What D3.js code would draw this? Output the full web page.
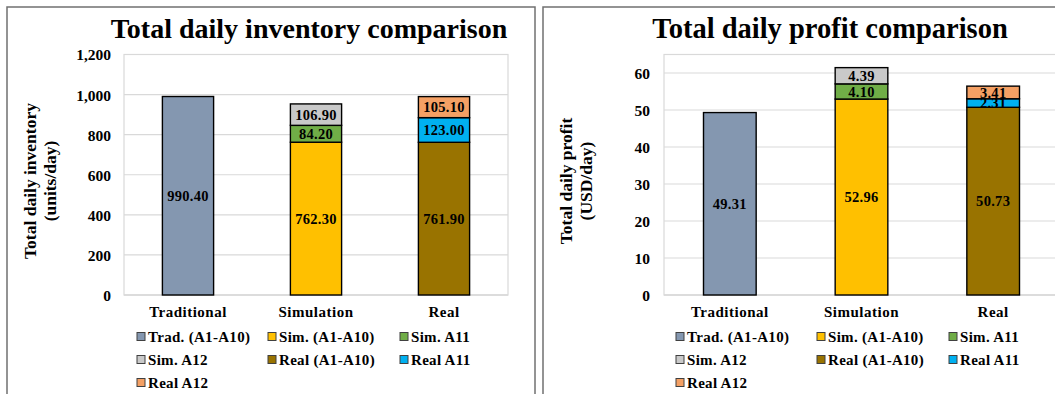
<!DOCTYPE html>
<html><head><meta charset="utf-8">
<script src="https://cdn.jsdelivr.net/npm/d3@7"></script>
<style>
html,body{margin:0;padding:0;background:#fff;}
svg{display:block;}
text{font-family:"Liberation Serif","Times New Roman",serif;font-weight:bold;fill:#000;}
</style></head><body>
<svg id="c" width="1055" height="394"></svg>
<script>
const categories = ["Traditional", "Simulation", "Real"];
const seriesNames = ["Trad. (A1-A10)", "Sim. (A1-A10)", "Sim. A11", "Sim. A12", "Real (A1-A10)", "Real A11", "Real A12"];
const seriesColors = ["#8497B0", "#FFC000", "#70AD47", "#C9C9C9", "#997300", "#00B0F0", "#F4A064"];
// which category each series sits on
const seriesCategory = ["Traditional", "Simulation", "Simulation", "Simulation", "Real", "Real", "Real"];
const inventoryValues = [990.40, 762.30, 84.20, 106.90, 761.90, 123.00, 105.10];
const profitValues = [49.31, 52.96, 4.10, 4.39, 50.73, 2.31, 3.41];
const inventoryTicks = [0, 200, 400, 600, 800, 1000, 1200];
const profitTicks = [0, 10, 20, 30, 40, 50, 60];

const svg = d3.select("#c");

function drawPanel(cfg) {
  const g = svg.append("g");
  // panel border
  g.append("rect").attr("x", cfg.px).attr("y", 7).attr("width", cfg.pw).attr("height", 420)
    .attr("fill", "#fff").attr("stroke", "#707070").attr("stroke-width", 1.5);
  g.append("text").attr("x", cfg.titleX).attr("y", 38).attr("text-anchor", "middle")
    .style("font-size", cfg.titleSize).text(cfg.title);

  const x = d3.scaleBand().domain(categories).range([cfg.left, cfg.right]).paddingInner(0.6).paddingOuter(0.3);
  const y = d3.scaleLinear().domain(cfg.domain).range([295, 54.5]);

  // plot area
  g.append("rect").attr("x", cfg.left).attr("y", 54.5).attr("width", cfg.right - cfg.left).attr("height", 295 - 54.5)
    .attr("fill", "none").attr("stroke", "#D9D9D9").attr("stroke-width", 1.2);
  // gridlines
  g.append("g").selectAll("line").data(cfg.ticks.filter(t => t > 0)).join("line")
    .attr("x1", cfg.left).attr("x2", cfg.right).attr("y1", d => y(d)).attr("y2", d => y(d))
    .attr("stroke", "#D9D9D9").attr("stroke-width", 1.2);
  g.append("line").attr("x1", cfg.left).attr("x2", cfg.right).attr("y1", y(0)).attr("y2", y(0))
    .attr("stroke", "#D9D9D9").attr("stroke-width", 1.5);

  // y axis
  const ya = d3.axisLeft(y).tickValues(cfg.ticks).tickSize(0).tickPadding(0).tickFormat(d3.format(","));
  const yg = g.append("g").attr("transform", `translate(${cfg.tickX},0)`).call(ya);
  yg.select(".domain").remove();
  yg.selectAll("text").style("font-size", "15.5px").attr("dy", "0.35em").attr("x", 0);

  // x axis labels
  const xa = d3.axisBottom(x).tickSize(0).tickPadding(0);
  const xg = g.append("g").attr("transform", `translate(0,${y(0)})`).call(xa);
  xg.select(".domain").remove();
  xg.selectAll("text").style("font-size", "15px").style("letter-spacing", "0.5px").attr("y", 22).attr("dy", 0);

  // stacked bars
  const vals = cfg.values;
  const segs = [];
  const base = {};
  vals.forEach((v, i) => {
    const c = seriesCategory[i];
    const b = base[c] || 0;
    segs.push({i, c, y0: b, y1: b + v, v});
    base[c] = b + v;
  });
  g.append("g").selectAll("rect").data(segs).join("rect")
    .attr("x", d => x(d.c)).attr("width", x.bandwidth())
    .attr("y", d => y(d.y1)).attr("height", d => y(d.y0) - y(d.y1))
    .attr("fill", d => seriesColors[d.i]).attr("stroke", "#000").attr("stroke-width", 1.4);
  g.append("g").selectAll("text").data(segs).join("text")
    .attr("x", d => x(d.c) + x.bandwidth() / 2).attr("y", d => y((d.y0 + d.y1) / 2))
    .attr("dy", "0.35em").attr("text-anchor", "middle").style("font-size", "14.5px")
    .style("letter-spacing", "0.3px").text(d => d.v.toFixed(2));

  // y title
  const yt = g.append("text").attr("transform", `translate(${cfg.ytX},181) rotate(-90)`)
    .attr("text-anchor", "middle").style("font-size", "17.5px");
  yt.append("tspan").attr("x", 0).attr("dy", 0).text(cfg.yTitle[0]);
  yt.append("tspan").attr("x", 0).attr("dy", 20).text(cfg.yTitle[1]);

  // legend
  const rowsY = [337, 360, 383];
  const leg = g.append("g").selectAll("g").data(seriesNames).join("g")
    .attr("transform", (d, i) => `translate(${cfg.legX[i % 3]},${rowsY[Math.floor(i / 3)]})`);
  leg.append("rect").attr("x", 0).attr("y", -4.5).attr("width", 8).attr("height", 8)
    .attr("fill", (d, i) => seriesColors[i]).attr("stroke", "#404040").attr("stroke-width", 1);
  leg.append("text").attr("x", 11).attr("y", 0).attr("dy", "0.35em").style("font-size", "15px")
    .style("letter-spacing", "0.3px").text(d => d);
}

drawPanel({
  px: 7, pw: 528, title: "Total daily inventory comparison", titleX: 309, titleSize: "28px",
  left: 124, right: 508, domain: [0, 1200], ticks: inventoryTicks, tickX: 111,
  values: inventoryValues, yTitle: ["Total daily inventory", "(units/day)"], ytX: 36,
  legX: [137, 268, 400]
});
drawPanel({
  px: 543, pw: 600, title: "Total daily profit comparison", titleX: 830, titleSize: "28.5px",
  left: 664, right: 1059, domain: [0, 65], ticks: profitTicks, tickX: 650,
  values: profitValues, yTitle: ["Total daily profit", "(USD/day)"], ytX: 572,
  legX: [676, 817, 949]
});
</script></body></html>
